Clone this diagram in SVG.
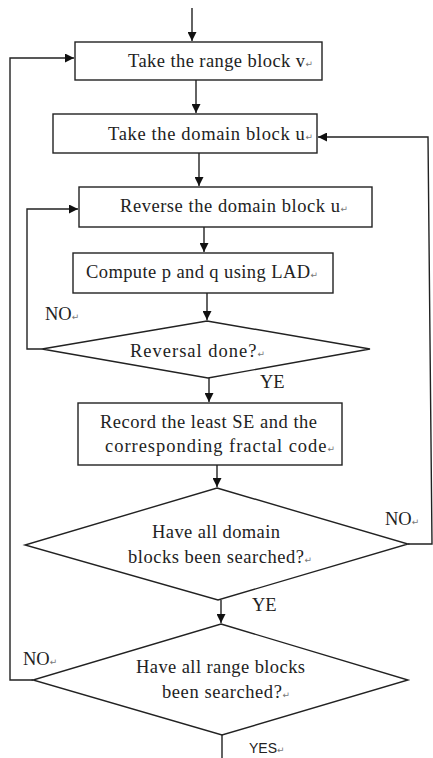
<svg xmlns="http://www.w3.org/2000/svg" width="433" height="758" viewBox="0 0 433 758">
<defs>
<marker id="ah" viewBox="0 0 10 10" refX="10" refY="5" markerWidth="9" markerHeight="9" markerUnits="userSpaceOnUse" orient="auto">
<path d="M0,0 L10,5 L0,10 Z" fill="#111"/>
</marker>
<style>
.box{fill:#fff;stroke:#222;stroke-width:1.4}
.ln{fill:none;stroke:#222;stroke-width:1.4}
.t{font-family:"Liberation Serif","Times New Roman",serif;font-size:18.5px;fill:#222}
.s{font-family:"Liberation Sans",Arial,sans-serif;font-size:14px;fill:#222}
.r{font-family:"DejaVu Sans",sans-serif;font-size:9px;fill:#777}
</style>
</defs>
<rect width="433" height="758" fill="#fff"/>
<g id="connectors">
<line class="ln" x1="192" y1="8" x2="192" y2="41" marker-end="url(#ah)"/>
<line class="ln" x1="196" y1="80" x2="196" y2="113" marker-end="url(#ah)"/>
<line class="ln" x1="199" y1="153" x2="199" y2="186" marker-end="url(#ah)"/>
<line class="ln" x1="204" y1="227" x2="204" y2="252" marker-end="url(#ah)"/>
<line class="ln" x1="207" y1="293" x2="207" y2="320" marker-end="url(#ah)"/>
<line class="ln" x1="209" y1="378" x2="209" y2="402" marker-end="url(#ah)"/>
<line class="ln" x1="217" y1="465" x2="217" y2="487" marker-end="url(#ah)"/>
<line class="ln" x1="221" y1="600" x2="221" y2="623" marker-end="url(#ah)"/>
<line class="ln" x1="222" y1="735" x2="222" y2="758"/>
<polyline class="ln" points="42,349 27,349 27,209 78,209" marker-end="url(#ah)"/>
<polyline class="ln" points="408,544 432,544 428,137 318,137" marker-end="url(#ah)"/>
<polyline class="ln" points="33,680 10,680 10,58 74,58" marker-end="url(#ah)"/>
<text class="t" x="45" y="320">NO<tspan class="r">↵</tspan></text>
<text class="t" x="260" y="388">YE</text>
<text class="t" x="385" y="525">NO<tspan class="r">↵</tspan></text>
<text class="t" x="252" y="611">YE</text>
<text class="t" x="23" y="665">NO<tspan class="r">↵</tspan></text>
<text class="s" x="249" y="753">YES<tspan class="r">↵</tspan></text>
</g>
<g id="n1">
<rect class="box" x="75" y="42" width="247" height="38"/>
<text class="t" x="128" y="67" textLength="185" lengthAdjust="spacing">Take  the range block v<tspan class="r">↵</tspan></text>
</g>
<g id="n2">
<rect class="box" x="53" y="114" width="264" height="39"/>
<text class="t" x="108" y="140" textLength="205" lengthAdjust="spacing">Take the domain block u<tspan class="r">↵</tspan></text>
</g>
<g id="n3">
<rect class="box" x="79" y="187" width="293" height="40"/>
<text class="t" x="120" y="212" textLength="228" lengthAdjust="spacing">Reverse  the domain block u<tspan class="r">↵</tspan></text>
</g>
<g id="n4">
<rect class="box" x="73" y="253" width="260" height="40"/>
<text class="t" x="86" y="278" textLength="232" lengthAdjust="spacing">Compute p and q using LAD<tspan class="r">↵</tspan></text>
</g>
<g id="n5">
<polygon class="box" points="207,321 370,349 208,378 42,349"/>
<text class="t" x="130" y="357" textLength="135" lengthAdjust="spacing">Reversal done?<tspan class="r">↵</tspan></text>
</g>
<g id="n6">
<rect class="box" x="78" y="403" width="264" height="62"/>
<text class="t" x="100" y="428" textLength="217" lengthAdjust="spacing">Record the least SE and the</text>
<text class="t" x="105" y="452" textLength="230" lengthAdjust="spacing">corresponding fractal code<tspan class="r">↵</tspan></text>
</g>
<g id="n7">
<polygon class="box" points="217,488 408,544 218,600 25,545"/>
<text class="t" x="152" y="538" textLength="128" lengthAdjust="spacing">Have all domain</text>
<text class="t" x="128" y="563" textLength="184" lengthAdjust="spacing">blocks been searched?<tspan class="r">↵</tspan></text>
</g>
<g id="n8">
<polygon class="box" points="221,624 408,680 222,735 33,680"/>
<text class="t" x="136" y="673" textLength="169" lengthAdjust="spacing">Have all range blocks</text>
<text class="t" x="162" y="698" textLength="128" lengthAdjust="spacing">been searched?<tspan class="r">↵</tspan></text>
</g>
</svg>
